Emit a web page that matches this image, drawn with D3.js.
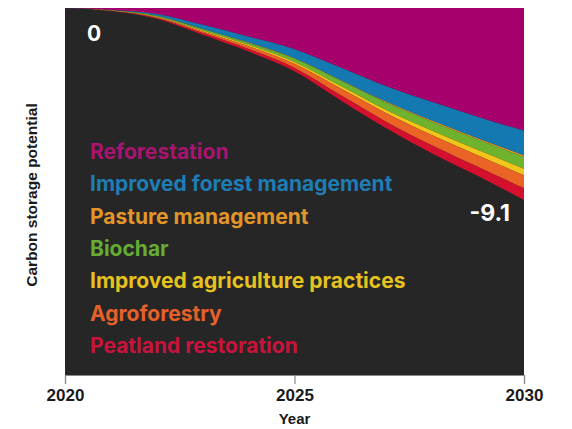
<!DOCTYPE html>
<html>
<head>
<meta charset="utf-8">
<script src="https://cdn.jsdelivr.net/npm/d3@7"></script>
<style>
  html, body { margin: 0; padding: 0; background: #ffffff; }
  svg { display: block; }
</style>
</head>
<body>
<svg id="chart" width="572" height="429"></svg>
<script>
const years = [2020, 2021, 2022, 2023, 2024, 2025, 2026, 2027, 2028, 2029, 2030];
const seriesNames = ["Reforestation", "Improved forest management", "Pasture management", "Biochar", "Improved agriculture practices", "Agroforestry", "Peatland restoration"];
const reforestation = [0, -0.09, -0.28, -0.80, -1.36, -1.95, -2.82, -3.71, -4.46, -5.17, -5.82];
const improvedForest = [0, -0.02, -0.09, -0.19, -0.28, -0.43, -0.59, -0.74, -0.89, -1.02, -1.17];
const pasture = [0, 0, -0.005, -0.01, -0.015, -0.02, -0.03, -0.04, -0.05, -0.06, -0.07];
const biochar = [0, -0.01, -0.04, -0.07, -0.10, -0.16, -0.25, -0.35, -0.42, -0.48, -0.56];
const improvedAg = [0, -0.005, -0.02, -0.04, -0.06, -0.08, -0.12, -0.15, -0.21, -0.26, -0.31];
const agroforestry = [0, -0.01, -0.04, -0.08, -0.13, -0.20, -0.32, -0.41, -0.49, -0.55, -0.62];
const peatland = [0, -0.01, -0.04, -0.08, -0.12, -0.16, -0.24, -0.30, -0.38, -0.43, -0.55];
const xTicks = [2020, 2025, 2030];
const startLabel = "0";
const endLabel = "-9.1";
const yDomain = [-17.4, 0];

const seriesValues = [reforestation, improvedForest, pasture, biochar, improvedAg, agroforestry, peatland];
const areaColors = ["#a6006c", "#1479b0", "#e39a2a", "#6fb22e", "#f2c51a", "#ea6425", "#d3102e"];
const textColors = ["#a8146f", "#1d7db4", "#e2962a", "#66ac33", "#e6c21f", "#e6602a", "#c8143c"];

const table = years.map((yr, i) => {
  const row = { year: yr };
  seriesNames.forEach((n, k) => row[n] = seriesValues[k][i]);
  return row;
});

const svg = d3.select("#chart");
const mLeft = 65, mRight = 524, mTop = 8, mBottom = 375;

const x = d3.scaleLinear().domain([2020, 2030]).range([mLeft, mRight]);
const y = d3.scaleLinear().domain(yDomain).range([mBottom, mTop]);

// dark background
svg.append("rect")
  .attr("x", mLeft).attr("y", mTop)
  .attr("width", mRight - mLeft).attr("height", mBottom - mTop)
  .attr("fill", "#262626");

const stack = d3.stack().keys(seriesNames).offset(d3.stackOffsetDiverging);
const layers = stack(table);

const area = d3.area()
  .x(d => x(d.data.year))
  .y0(d => y(d[0]))
  .y1(d => y(d[1]))
  .curve(d3.curveMonotoneX);

svg.append("g").selectAll("path")
  .data(layers)
  .join("path")
  .attr("d", area)
  .attr("fill", (d, i) => areaColors[i]);

// axis
const xAxis = d3.axisBottom(x).tickValues(xTicks).tickFormat(d3.format("d")).tickSize(9).tickPadding(5);
const gx = svg.append("g").attr("transform", `translate(0,${mBottom})`).call(xAxis);
gx.select(".domain").attr("stroke", "#8a8a8a").attr("stroke-width", 1.2);
gx.selectAll(".tick line").attr("stroke", "#8a8a8a").attr("stroke-width", 1.2);
gx.selectAll(".tick text")
  .attr("font-family", "'Liberation Sans', Arial, sans-serif")
  .attr("font-weight", "700")
  .attr("font-size", 17)
  .attr("fill", "#1a1a1a");

svg.append("text")
  .attr("x", x(2025)).attr("y", 424)
  .attr("text-anchor", "middle")
  .attr("font-family", "'Liberation Sans', Arial, sans-serif")
  .attr("font-weight", "700").attr("font-size", 15)
  .attr("fill", "#1a1a1a")
  .text("Year");

svg.append("text")
  .attr("transform", `translate(37,${(105 + 285) / 2}) rotate(-90)`)
  .attr("text-anchor", "middle")
  .attr("font-family", "'Liberation Sans', Arial, sans-serif")
  .attr("font-weight", "700").attr("font-size", 15.5)
  .attr("fill", "#1a1a1a")
  .text("Carbon storage potential");

// legend
const legend = svg.append("g");
seriesNames.forEach((n, i) => {
  legend.append("text")
    .attr("x", 90).attr("y", 159 + i * 32.3)
    .attr("font-family", "Inter, 'Noto Sans', sans-serif")
    .attr("font-weight", "700").attr("font-size", 21)
    .attr("fill", textColors[i])
    .text(n);
});

// value labels
svg.append("text")
  .attr("x", 87).attr("y", 41)
  .attr("font-family", "Inter, 'Noto Sans', sans-serif")
  .attr("font-weight", "700").attr("font-size", 21)
  .attr("fill", "#ffffff")
  .text(startLabel);

svg.append("text")
  .attr("x", 510).attr("y", 221)
  .attr("text-anchor", "end")
  .attr("font-family", "Inter, 'Noto Sans', sans-serif")
  .attr("font-weight", "700").attr("font-size", 23)
  .attr("fill", "#ffffff")
  .text(endLabel);
</script>
</body>
</html>
